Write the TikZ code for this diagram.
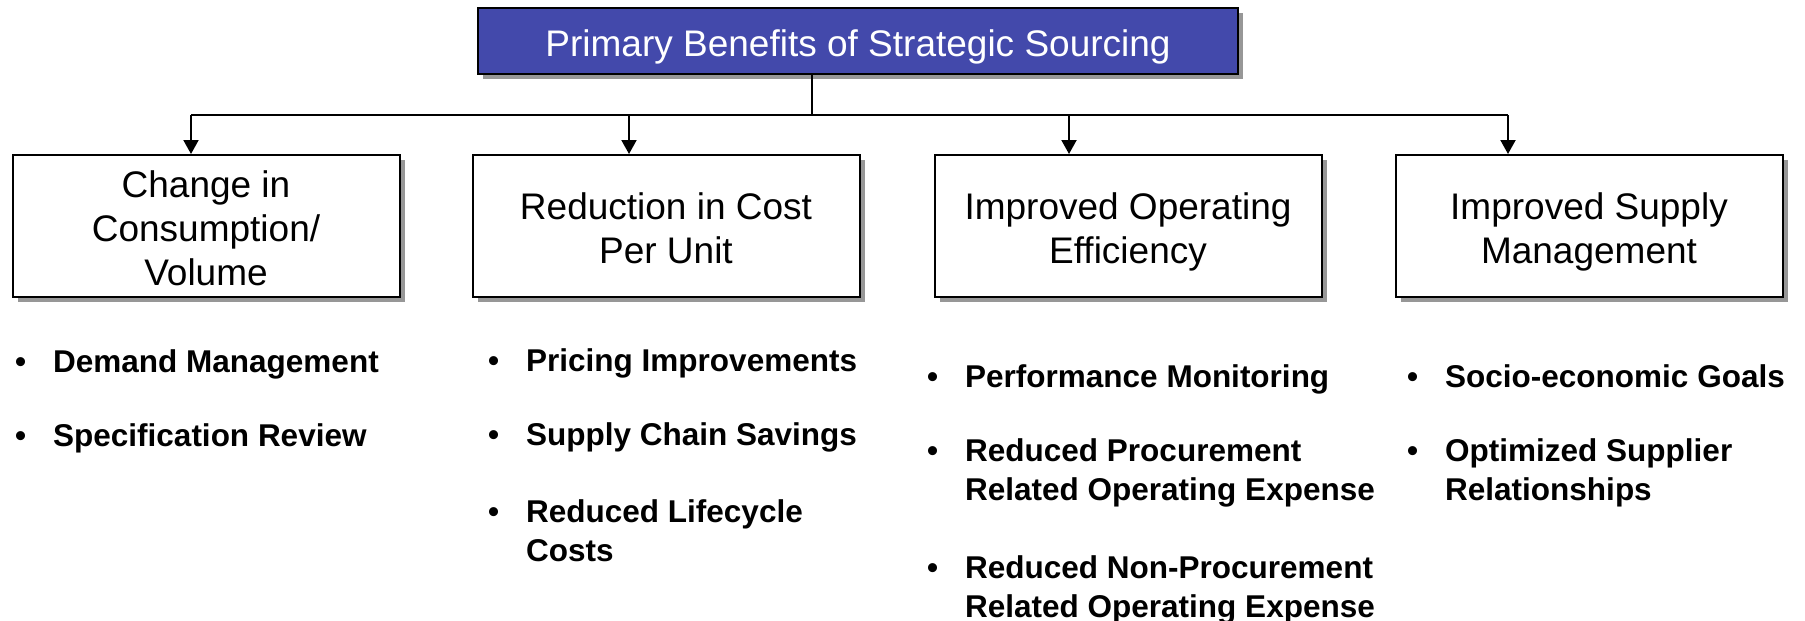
\documentclass[tikz,border=0pt]{standalone}
\usepackage{fontspec}
\setmainfont{Liberation Sans}
\usetikzlibrary{arrows.meta,shadows}

\definecolor{titleblue}{RGB}{67,73,171}
\definecolor{shadowgray}{RGB}{125,125,125}

\newcommand\topstrut{\rule{0pt}{40pt}}
\newcommand\botstrut{\rule[-10pt]{0pt}{10pt}}

\tikzset{
  benefit/.style={draw,line width=2pt,fill=white,inner sep=0pt,
    minimum width=387pt,minimum height=142pt,align=center,
    font=\fontsize{37}{44}\selectfont,
    drop shadow={shadow xshift=5pt,shadow yshift=-5pt,fill=shadowgray,opacity=0.8}},
  headbox/.style={benefit,fill=titleblue,text=white,minimum width=760pt,minimum height=66pt},
  link/.style={line width=2pt},
  feed/.style={link,-{Triangle[length=14pt,width=15pt]}},
  list/.style={anchor=base west,inner sep=0pt,font=\bfseries\fontsize{31.5}{39}\selectfont}
}

\begin{document}
\begin{tikzpicture}[x=1pt,y=-1pt]

  \useasboundingbox (0,0) rectangle (1805,621);

  \node[headbox] (title) at (858,41) {\topstrut Primary Benefits of Strategic Sourcing\botstrut};

  \node[benefit] (consump) at (206,226) {\topstrut Change in\\Consumption/\\Volume\botstrut};
  \node[benefit] (cost) at (666,226) {\topstrut Reduction in Cost\\Per Unit\botstrut};
  \node[benefit] (effic) at (1128,226) {\topstrut Improved Operating\\Efficiency\botstrut};
  \node[benefit] (supply) at (1589,226) {\topstrut Improved Supply\\Management\botstrut};

  % connectors
  \coordinate (hub) at (812,115);
  \coordinate (d1) at (191,115);
  \coordinate (d2) at (629,115);
  \coordinate (d3) at (1069,115);
  \coordinate (d4) at (1508,115);

  \draw[link] (title.south -| hub) -- (hub);
  \draw[link] (d1) -- (d4);
  \draw[feed] (d1) -- (d1 |- consump.north);
  \draw[feed] (d2) -- (d2 |- cost.north);
  \draw[feed] (d3) -- (d3 |- effic.north);
  \draw[feed] (d4) -- (d4 |- supply.north);

  % bullet lists
  \node[list] (consumpList) at (15,372) {\begin{tabular}[t]{@{}p{38pt}@{}l@{}}
    \textbullet & Demand Management\\[35pt]
    \textbullet & Specification Review
  \end{tabular}};

  \node[list] (costList) at (488,371) {\begin{tabular}[t]{@{}p{38pt}@{}l@{}}
    \textbullet & Pricing Improvements\\[35pt]
    \textbullet & Supply Chain Savings\\[38pt]
    \textbullet & Reduced Lifecycle\\
                & Costs
  \end{tabular}};

  \node[list] (efficList) at (927,387) {\begin{tabular}[t]{@{}p{38pt}@{}l@{}}
    \textbullet & Performance Monitoring\\[35pt]
    \textbullet & Reduced Procurement\\
                & Related Operating Expense\\[39pt]
    \textbullet & Reduced Non-Procurement\\
                & Related Operating Expense
  \end{tabular}};

  \node[list] (supplyList) at (1407,387) {\begin{tabular}[t]{@{}p{38pt}@{}l@{}}
    \textbullet & Socio-economic Goals\\[35pt]
    \textbullet & Optimized Supplier\\
                & Relationships
  \end{tabular}};

\end{tikzpicture}
\end{document}
